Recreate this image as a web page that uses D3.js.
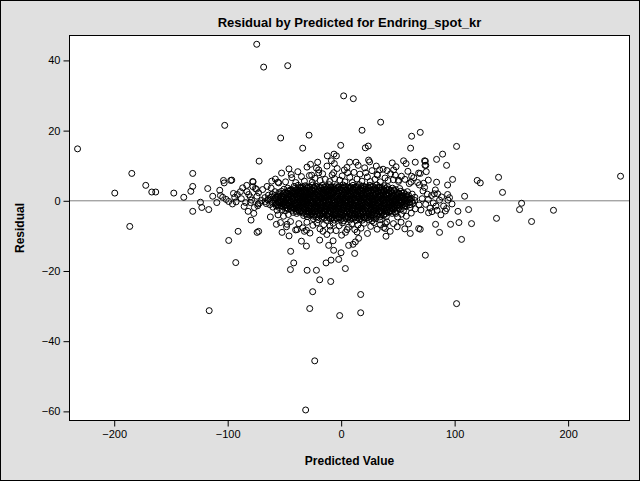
<!DOCTYPE html>
<html>
<head>
<meta charset="utf-8">
<script src="https://cdn.jsdelivr.net/npm/d3@7"></script>
<style>
  body { margin: 0; background: #ffffff; }
  text { font-family: "Liberation Sans", Arial, sans-serif; }
</style>
</head>
<body>
<svg id="drawing_region"></svg>
<script>
// tick values
const xticks = [-200, -100, 0, 100, 200];
const yticks = [-60, -40, -20, 0, 20, 40];

// points away from the main cloud: [predicted, residual]
const outer_points = [
  [-232.3,14.8],[-102.6,21.5],[-184.5,7.8],[-130.8,7.8],[-199.5,2.2],[-172.2,4.4],[-166.9,2.5],[-163.4,2.5],
  [-147.5,2.2],[-138.7,1.0],[-132.5,2.7],[-130.8,4.1],[-117.6,3.5],[-124.0,-0.4],[-122.8,-1.9],[-116.7,-2.5],
  [-130.8,-3.0],[-186.3,-7.3],[-116.3,-31.3],[-92.9,-17.6],[-99.1,-11.3],[-90.8,-8.7],[-113.2,1.3],[-107.0,3.0],
  [-103.7,5.8],[-103.1,5.1],[-97.3,5.8],[-109.6,-0.5],[-104.4,1.0],[-101.4,0.4],[-99.1,-0.2],[-93.8,1.0],
  [-94.9,2.1],[-92.6,-0.3],[-106.4,1.5],
  [246.2,7.0],[101.7,15.5],[89.4,13.3],[84.1,11.8],[92.9,10.1],[138.7,6.7],[119.9,5.8],[122.6,5.1],
  [98.2,6.1],[84.1,5.3],[93.8,4.5],[142.2,2.4],[108.8,1.3],[159.0,-0.7],[157.2,-2.5],[187.1,-2.7],
  [136.9,-5.0],[167.8,-5.9],[112.3,-2.5],[102.9,-3.0],[114.9,-6.5],[103.8,-6.2],[96.4,-6.7],[83.2,-6.7],
  [86.7,-9.0],[106.1,-11.0],[101.7,-29.3],[93.8,1.8],[85.0,2.0],[82.1,2.0],[86.7,0.2],[94.1,0.2],
  [97.7,-0.9],[90.3,-1.5],[83.6,-1.5],[92.9,-2.2],[84.5,-2.7],[80.0,-3.1],[91.8,-2.9],[69.7,19.5],
  [74.2,11.3],[74.6,10.1],[69.7,7.8],[69.7,-8.1],
  [-74.4,44.6],[-68.3,38.1],[-47.1,38.5],[2.2,29.9],[10.7,29.1],[34.8,22.4],[-53.3,17.9],[-28.3,18.7],
  [18.4,20.1],[62.1,18.4],[-33.9,15.0],[-0.4,15.8],[21.3,15.1],[23.9,15.6],[61.2,15.0],[-72.3,11.3],
  [-20.7,11.0],[-12.2,12.8],[-8.6,11.4],[-6.3,13.3],[-4.2,12.8],[7.5,11.0],[13.1,11.0],[24.2,11.6],
  [25.1,11.1],[55.0,11.4],[57.2,10.6],[65.3,11.0],[73.5,11.4],[73.9,10.1],[-96.4,5.9],[-83.2,4.4],
  [-77.6,5.4],[-74.7,3.3],[-61.2,5.6],[-55.6,5.3],[-26.0,7.3],[-19.8,8.8],[-19.8,8.0],[-6.6,8.0],
  [5.7,8.0],[2.8,8.8],[21.6,8.0],[31.6,7.5],[33.9,8.8],[40.4,8.6],[46.2,8.8],[47.7,7.3],
  [50.6,5.9],[62.1,7.0],[68.3,7.9],[75.0,8.3],[72.7,5.0],[76.8,5.9],
  [-77.0,-3.6],[-79.4,-5.5],[-74.1,-9.0],[-72.7,-8.7],[-62.4,-4.6],[-56.5,-2.7],[-57.1,-6.7],[-52.1,-9.0],
  [-47.7,-6.7],[-45.9,-10.0],[-44.5,-14.4],[-41.8,-17.7],[-35.0,-11.5],[-30.6,-12.9],[-38.8,-8.2],[-32.4,-8.7],
  [-30.6,-8.4],[-18.9,-11.2],[-16.0,-8.7],[-9.5,-8.4],[-11.0,-12.7],[-6.6,-14.1],[-0.1,-14.8],[-7.1,-11.4],
  [-13.3,-17.7],[-8.9,-16.9],[-2.2,-16.7],[0.4,-9.8],[5.2,-8.2],[14.0,-8.9],[15.4,-10.7],[6.6,-12.7],
  [10.5,-12.4],[12.5,-11.7],[11.9,-15.0],[3.7,-19.3],[28.6,-5.0],[38.9,-6.5],[38.9,-7.9],[39.5,-10.1],
  [48.1,-3.6],[60.9,-9.3],[68.3,-7.9],[74.2,-15.5],[-30.0,-19.8],[-21.8,-19.8],[-44.7,-19.6],[-18.9,-22.5],
  [-9.2,-23.0],[-25.1,-25.9],[-27.7,-30.7],[-1.3,-32.7],[17.2,-26.7],[17.2,-31.9],[-23.3,-45.6],[-31.3,-59.6],
  [-78.0,5.5],[-75.6,3.5],[-88.8,2.6],[-81.5,1.8],[-80.0,1.1],[-84.1,-0.5],[-80.0,-0.5],[-73.2,-0.9]
];

// points around the edge of the cloud
const fringe_points = [
  [-58,6.2],[-52.5,7.9],[-49,5.4],[-46,9.1],[-43.5,6.6],[-40,5.2],[-38.2,8.3],[-35,6.9],[-32.4,5.6],[-30.1,9.6],
  [-28,7.2],[-25.5,5.3],[-23,6.4],[-21.8,9.3],[-18.6,5.8],[-16.3,7.7],[-14,6.1],[-12.5,9.9],[-10.2,5.5],[-8,7.4],
  [-5.7,6.3],[-3.5,9.2],[-1.2,5.9],[0.9,7.1],[3.3,5.4],[5.1,9.5],[7.6,6.7],[9.8,5.2],[11.4,8.1],[14,6.2],
  [16.5,7.6],[18.3,5.6],[20.7,9.4],[23.1,6.8],[25.6,5.5],[27.2,8.6],[29.8,6.1],[32.1,7.3],[34.5,5.4],[36.9,9.0],
  [38.7,6.5],[41.3,5.8],[43.6,7.7],[46,6.0],[48.4,9.7],[50.5,5.5],[53.1,7.0],[56.2,6.1],[58.8,8.4],[61.5,5.3],
  [64,6.6],[67.4,5.2],[-55,5.1],[-44,7.5],[-27,10.4],[-6,10.6],[15,10.1],[31,9.9],[45,10.8],[60,4.9],
  [-53.5,-6.2],[-48.2,-7.4],[-44.6,-5.9],[-40.1,-8.3],[-37.3,-6.5],[-33.8,-7.7],[-30.2,-6.1],[-27.5,-9.2],
  [-24.9,-7.0],[-21.4,-6.3],[-18.7,-8.0],[-15.3,-6.8],[-12.6,-9.6],[-9.8,-7.2],[-7.1,-6.4],[-4.4,-8.5],
  [-1.7,-7.1],[1.2,-6.3],[3.8,-9.0],[6.5,-7.5],[9.3,-6.6],[12.0,-8.2],[14.8,-6.9],[17.5,-7.8],[20.3,-6.4],
  [23.2,-9.3],[26.0,-7.3],[28.9,-6.2],[31.7,-8.1],[34.6,-6.8],[37.5,-7.6],[40.3,-6.0],[43.2,-8.7],[46.1,-6.5],
  [49.4,-7.4],[52.8,-6.1],[56.1,-8.0],[59.4,-6.6],[-50.8,-4.4],[-46.5,-3.9],[-55.6,-4.0],[49.7,-4.6],[53.2,-3.8],
  [57.4,-4.4],[61.8,-3.5],[65.3,-2.3],[68.7,-1.2],[71.4,0.6],[-72.8,2.3],[-73.5,-1.4],[-69.2,3.2],[-65.3,4.1],
  [-61.7,3.6],
  [72.1,2.8],[74.5,-1.0],[76.8,0.4],[78.3,-2.1],[79.6,1.5],[81.2,-0.6],[83.0,3.1],[77.0,-3.4],[73.5,3.8],
  [75.9,1.9],[70.3,-2.6],[87.9,-4.0],[88.5,1.1],[95.5,0.9],[69.0,4.5],
  [-88.0,0.6],[-85.5,-1.6],[-83.0,2.6],[-79.0,0.2],[-76.5,-1.9],[-74.2,1.3],[-71.8,-0.6],[-86.8,3.7],
  [-91.5,1.8],[-95.8,-0.9],[-77.8,4.0],[-82.0,-3.0]
];

// the dense middle of the cloud
const core_points = [
  [-41.5,4.1],[-38.0,4.4],[-35.3,3.9],[-31.6,4.3],[-28.9,4.0],[-25.2,4.5],[-22.8,4.2],[-19.3,3.9],[-16.7,4.4],[-13.0,4.1],
  [-10.4,4.6],[-7.5,3.9],[-4.3,4.3],[-1.6,4.0],[1.7,4.5],[4.3,4.1],[7.2,3.8],[10.4,4.4],[13.3,4.0],[15.9,4.6],
  [19.4,4.2],[22.2,3.9],[25.3,4.4],[28.1,4.1],[31.4,4.5],[34.3,3.9],[37.8,4.3],[40.9,4.0],
  [-50.4,3.3],[-47.1,3.6],[-44.1,3.2],[-41.2,3.5],[-38.4,3.1],[-35.4,3.6],[-32.7,3.3],[-29.7,3.7],[-26.6,3.2],[-24.1,3.5],
  [-21.0,3.3],[-18.3,3.6],[-15.4,3.1],[-12.4,3.4],[-9.7,3.7],[-6.6,3.2],[-3.9,3.5],[-0.9,3.3],[1.8,3.6],[4.9,3.1],
  [7.5,3.5],[10.4,3.3],[13.6,3.7],[16.1,3.2],[19.3,3.5],[22.0,3.3],[24.7,3.6],[27.9,3.1],[30.4,3.4],[33.7,3.7],
  [36.1,3.2],[39.4,3.5],[41.9,3.3],[45.2,3.6],[48.0,3.2],[51.6,3.5],
  [-58.3,2.6],[-55.0,2.3],[-52.6,2.7],[-49.4,2.4],[-46.9,2.8],[-43.7,2.3],[-41.4,2.6],[-38.1,2.4],[-35.7,2.8],[-32.6,2.5],
  [-30.1,2.2],[-26.9,2.6],[-24.6,2.9],[-21.3,2.4],[-18.9,2.7],[-15.7,2.3],[-13.2,2.6],[-10.1,2.8],[-7.6,2.4],[-4.4,2.7],
  [-2.0,2.3],[1.3,2.6],[3.7,2.9],[7.0,2.4],[9.4,2.7],[12.7,2.3],[15.1,2.6],[18.4,2.8],[20.8,2.4],[24.0,2.7],
  [26.5,2.3],[29.7,2.6],[32.2,2.9],[35.4,2.4],[37.9,2.7],[41.1,2.3],[43.6,2.6],[46.8,2.8],[49.3,2.4],[52.5,2.7],
  [55.2,2.3],[58.4,2.6],
  [-64.1,1.6],[-60.8,1.9],[-58.4,1.5],[-55.1,1.8],[-52.7,1.4],[-49.6,1.7],[-47.1,2.0],[-43.9,1.5],[-41.5,1.8],[-38.4,1.6],
  [-36.0,1.9],[-32.8,1.4],[-30.4,1.7],[-27.2,2.0],[-24.9,1.5],[-21.7,1.8],[-19.3,1.6],[-16.1,1.9],[-13.7,1.4],[-10.5,1.7],
  [-8.1,2.0],[-5.0,1.5],[-2.6,1.8],[0.6,1.6],[3.0,1.9],[6.2,1.4],[8.6,1.7],[11.8,2.0],[14.2,1.5],[17.4,1.8],
  [19.8,1.6],[23.0,1.9],[25.4,1.4],[28.6,1.7],[31.0,2.0],[34.2,1.5],[36.6,1.8],[39.8,1.6],[42.2,1.9],[45.4,1.4],
  [47.8,1.7],[51.0,2.0],[53.5,1.5],[56.8,1.8],[59.3,1.6],[62.6,1.9],
  [-67.2,0.9],[-64.1,0.6],[-61.7,1.0],[-58.4,0.7],[-56.0,1.1],[-52.8,0.6],[-50.3,0.9],[-47.1,0.7],[-44.7,1.1],[-41.5,0.6],
  [-39.1,0.9],[-35.9,0.7],[-33.5,1.0],[-30.3,0.5],[-27.9,0.8],[-24.7,1.1],[-22.3,0.6],[-19.1,0.9],[-16.7,0.7],[-13.5,1.0],
  [-11.1,0.5],[-7.9,0.8],[-5.5,1.1],[-2.3,0.6],[0.1,0.9],[3.3,0.7],[5.7,1.0],[8.9,0.5],[11.3,0.8],[14.5,1.1],
  [16.9,0.6],[20.1,0.9],[22.5,0.7],[25.7,1.0],[28.1,0.5],[31.3,0.8],[33.7,1.1],[36.9,0.6],[39.3,0.9],[42.5,0.7],
  [44.9,1.0],[48.1,0.5],[50.5,0.8],[53.7,1.1],[56.1,0.6],[59.4,0.9],[61.9,0.7],[65.0,1.0],
  [-70.1,0.1],[-66.8,-0.2],[-64.4,0.2],[-61.2,-0.1],[-58.7,0.3],[-55.5,-0.2],[-53.1,0.1],[-49.8,-0.1],[-47.4,0.2],[-44.2,-0.3],
  [-41.8,0.0],[-38.6,0.3],[-36.2,-0.2],[-33.0,0.1],[-30.6,-0.1],[-27.4,0.2],[-25.0,-0.3],[-21.8,0.0],[-19.4,0.3],[-16.2,-0.2],
  [-13.8,0.1],[-10.6,-0.1],[-8.2,0.2],[-5.0,-0.3],[-2.6,0.0],[0.6,0.3],[3.0,-0.2],[6.2,0.1],[8.6,-0.1],[11.8,0.2],
  [14.2,-0.3],[17.4,0.0],[19.8,0.3],[23.0,-0.2],[25.4,0.1],[28.6,-0.1],[31.0,0.2],[34.2,-0.3],[36.6,0.0],[39.8,0.3],
  [42.2,-0.2],[45.4,0.1],[47.8,-0.1],[51.0,0.2],[53.4,-0.3],[56.6,0.0],[59.1,0.3],[62.4,-0.2],[64.9,0.1],
  [-66.0,-0.8],[-62.9,-1.1],[-60.5,-0.7],[-57.2,-1.0],[-54.8,-0.6],[-51.6,-0.9],[-49.2,-1.2],[-46.0,-0.7],[-43.6,-1.0],[-40.4,-0.8],
  [-38.0,-1.1],[-34.8,-0.6],[-32.4,-0.9],[-29.2,-1.2],[-26.8,-0.7],[-23.6,-1.0],[-21.2,-0.8],[-18.0,-1.1],[-15.6,-0.6],[-12.4,-0.9],
  [-10.0,-1.2],[-6.8,-0.7],[-4.4,-1.0],[-1.2,-0.8],[1.2,-1.1],[4.4,-0.6],[6.8,-0.9],[10.0,-1.2],[12.4,-0.7],[15.6,-1.0],
  [18.0,-0.8],[21.2,-1.1],[23.6,-0.6],[26.8,-0.9],[29.2,-1.2],[32.4,-0.7],[34.8,-1.0],[38.0,-0.8],[40.4,-1.1],[43.6,-0.6],
  [46.0,-0.9],[49.2,-1.2],[51.6,-0.7],[54.8,-1.0],[57.3,-0.8],[60.6,-1.1],[63.1,-0.7],
  [-60.2,-1.8],[-57.1,-1.5],[-54.7,-1.9],[-51.5,-1.6],[-49.1,-2.0],[-45.9,-1.5],[-43.5,-1.8],[-40.3,-1.6],[-37.9,-1.9],[-34.7,-1.4],
  [-32.3,-1.7],[-29.1,-2.0],[-26.7,-1.5],[-23.5,-1.8],[-21.1,-1.6],[-17.9,-1.9],[-15.5,-1.4],[-12.3,-1.7],[-9.9,-2.0],[-6.7,-1.5],
  [-4.3,-1.8],[-1.1,-1.6],[1.3,-1.9],[4.5,-1.4],[6.9,-1.7],[10.1,-2.0],[12.5,-1.5],[15.7,-1.8],[18.1,-1.6],[21.3,-1.9],
  [23.7,-1.4],[26.9,-1.7],[29.3,-2.0],[32.5,-1.5],[34.9,-1.8],[38.1,-1.6],[40.5,-1.9],[43.7,-1.4],[46.1,-1.7],[49.3,-2.0],
  [51.7,-1.5],[55.0,-1.8],[57.5,-1.6],[60.8,-1.9],
  [-52.0,-2.5],[-48.9,-2.8],[-46.5,-2.4],[-43.3,-2.7],[-40.9,-2.3],[-37.7,-2.6],[-35.3,-2.9],[-32.1,-2.4],[-29.7,-2.7],[-26.5,-2.5],
  [-24.1,-2.8],[-20.9,-2.3],[-18.5,-2.6],[-15.3,-2.9],[-12.9,-2.4],[-9.7,-2.7],[-7.3,-2.5],[-4.1,-2.8],[-1.7,-2.3],[1.5,-2.6],
  [3.9,-2.9],[7.1,-2.4],[9.5,-2.7],[12.7,-2.5],[15.1,-2.8],[18.3,-2.3],[20.7,-2.6],[23.9,-2.9],[26.3,-2.4],[29.5,-2.7],
  [31.9,-2.5],[35.1,-2.8],[37.5,-2.3],[40.7,-2.6],[43.1,-2.9],[46.3,-2.4],[48.8,-2.7],[52.2,-2.5],[54.9,-2.8],
  [-42.3,-3.3],[-39.2,-3.6],[-36.8,-3.2],[-33.6,-3.5],[-31.2,-3.7],[-28.0,-3.3],[-25.6,-3.6],[-22.4,-3.2],[-20.0,-3.5],[-16.8,-3.7],
  [-14.4,-3.3],[-11.2,-3.6],[-8.8,-3.2],[-5.6,-3.5],[-3.2,-3.7],[0.0,-3.3],[2.4,-3.6],[5.6,-3.2],[8.0,-3.5],[11.2,-3.7],
  [13.6,-3.3],[16.8,-3.6],[19.2,-3.2],[22.4,-3.5],[24.8,-3.7],[28.0,-3.3],[30.4,-3.6],[33.6,-3.2],[36.0,-3.5],[39.2,-3.7],
  [41.7,-3.3],[45.0,-3.6],[47.6,-3.2],
  [-33.1,-4.2],[-30.0,-4.5],[-27.6,-4.1],[-24.4,-4.4],[-22.0,-4.6],[-18.8,-4.2],[-16.4,-4.5],[-13.2,-4.1],[-10.8,-4.4],[-7.6,-4.6],
  [-5.2,-4.2],[-2.0,-4.5],[0.4,-4.1],[3.6,-4.4],[6.0,-4.6],[9.2,-4.2],[11.6,-4.5],[14.8,-4.1],[17.2,-4.4],[20.4,-4.6],
  [22.8,-4.2],[26.0,-4.5],[28.4,-4.1],[31.6,-4.4],[34.0,-4.6],[37.3,-4.2],[39.8,-4.5],
  [-24.5,-5.1],[-20.3,-5.4],[-16.8,-5.0],[-12.9,-5.6],[-9.4,-5.2],[-6.1,-5.5],[-3.2,-5.0],[-0.5,-5.4],[2.3,-5.7],[5.0,-5.1],
  [7.8,-5.5],[10.5,-5.0],[13.3,-5.6],[16.0,-5.2],[18.8,-5.5],[21.5,-5.0],[24.4,-5.4],[27.2,-5.7],[30.5,-5.1],[34.2,-5.4]
];

// more observations packed between the ones above, centre of the cloud
const core_points_2 = [
  [-36.6,3.8],[-33.9,4.0],[-30.2,3.7],[-27.5,3.9],[-24.0,3.8],[-21.4,4.0],[-18.0,3.7],[-15.1,3.9],[-11.8,3.8],[-9.0,4.0],
  [-5.9,3.7],[-2.9,3.9],[0.1,3.8],[2.9,4.0],[5.8,3.7],[8.8,3.9],[11.9,3.8],[14.6,4.0],[17.6,3.7],[20.8,3.9],
  [23.7,3.8],[26.6,4.0],[29.7,3.7],[32.8,3.9],[35.9,3.8],
  [-44.9,3.0],[-42.6,2.9],[-39.8,3.1],[-37.0,2.9],[-34.1,3.0],[-31.2,3.1],[-28.3,2.9],[-25.5,3.0],[-22.7,3.1],[-19.8,2.9],
  [-16.9,3.0],[-14.0,3.1],[-11.1,2.9],[-8.3,3.0],[-5.4,3.1],[-2.5,2.9],[0.3,3.0],[3.3,3.1],[6.1,2.9],[9.0,3.0],
  [11.9,3.1],[14.8,2.9],[17.7,3.0],[20.6,3.1],[23.4,2.9],[26.3,3.0],[29.1,3.1],[32.0,2.9],[34.9,3.0],[37.7,3.1],
  [40.6,2.9],[43.5,3.0],[46.4,3.1],
  [-51.0,2.1],[-48.0,2.2],[-45.3,2.0],[-42.5,2.1],[-39.7,2.2],[-36.9,2.0],[-34.2,2.1],[-31.3,2.2],[-28.6,2.0],[-25.7,2.1],
  [-23.0,2.2],[-20.1,2.0],[-17.3,2.1],[-14.5,2.2],[-11.7,2.0],[-8.8,2.1],[-6.1,2.2],[-3.2,2.0],[-0.4,2.1],[2.5,2.2],
  [5.3,2.0],[8.1,2.1],[11.0,2.2],[13.8,2.0],[16.7,2.1],[19.5,2.2],[22.4,2.0],[25.2,2.1],[28.0,2.2],[30.9,2.0],
  [33.7,2.1],[36.6,2.2],[39.4,2.0],[42.3,2.1],[45.1,2.2],[48.0,2.0],[50.8,2.1],[53.7,2.2],
  [-55.6,1.2],[-52.9,1.3],[-50.1,1.2],[-47.4,1.3],[-44.6,1.2],[-41.9,1.3],[-39.1,1.2],[-36.4,1.3],[-33.6,1.2],[-30.9,1.3],
  [-28.1,1.2],[-25.4,1.3],[-22.6,1.2],[-19.9,1.3],[-17.1,1.2],[-14.4,1.3],[-11.6,1.2],[-8.9,1.3],[-6.1,1.2],[-3.4,1.3],
  [-0.6,1.2],[2.1,1.3],[4.9,1.2],[7.6,1.3],[10.4,1.2],[13.1,1.3],[15.9,1.2],[18.6,1.3],[21.4,1.2],[24.1,1.3],
  [26.9,1.2],[29.6,1.3],[32.4,1.2],[35.1,1.3],[37.9,1.2],[40.6,1.3],[43.4,1.2],[46.1,1.3],[48.9,1.2],[51.6,1.3],
  [54.4,1.2],[57.3,1.3],
  [-57.0,0.4],[-54.1,0.3],[-51.4,0.5],[-48.6,0.4],[-45.8,0.3],[-43.0,0.5],[-40.2,0.4],[-37.4,0.3],[-34.6,0.5],[-31.8,0.4],
  [-29.0,0.3],[-26.2,0.5],[-23.4,0.4],[-20.6,0.3],[-17.8,0.5],[-15.0,0.4],[-12.2,0.3],[-9.4,0.5],[-6.6,0.4],[-3.8,0.3],
  [-1.0,0.5],[1.8,0.4],[4.6,0.3],[7.4,0.5],[10.2,0.4],[13.0,0.3],[15.8,0.5],[18.6,0.4],[21.4,0.3],[24.2,0.5],
  [27.0,0.4],[29.8,0.3],[32.6,0.5],[35.4,0.4],[38.2,0.3],[41.0,0.5],[43.8,0.4],[46.6,0.3],[49.4,0.5],[52.2,0.4],
  [55.0,0.3],[57.9,0.5],[60.7,0.4],
  [-57.9,-0.5],[-55.2,-0.4],[-52.4,-0.5],[-49.6,-0.4],[-46.8,-0.5],[-44.0,-0.4],[-41.2,-0.5],[-38.4,-0.4],[-35.6,-0.5],[-32.8,-0.4],
  [-30.0,-0.5],[-27.2,-0.4],[-24.4,-0.5],[-21.6,-0.4],[-18.8,-0.5],[-16.0,-0.4],[-13.2,-0.5],[-10.4,-0.4],[-7.6,-0.5],[-4.8,-0.4],
  [-2.0,-0.5],[0.8,-0.4],[3.6,-0.5],[6.4,-0.4],[9.2,-0.5],[12.0,-0.4],[14.8,-0.5],[17.6,-0.4],[20.4,-0.5],[23.2,-0.4],
  [26.0,-0.5],[28.8,-0.4],[31.6,-0.5],[34.4,-0.4],[37.2,-0.5],[40.0,-0.4],[42.8,-0.5],[45.6,-0.4],[48.4,-0.5],[51.2,-0.4],
  [54.0,-0.5],[56.9,-0.4],[59.8,-0.5],
  [-55.8,-1.3],[-53.0,-1.4],[-50.2,-1.2],[-47.4,-1.3],[-44.6,-1.4],[-41.8,-1.2],[-39.0,-1.3],[-36.2,-1.4],[-33.4,-1.2],[-30.6,-1.3],
  [-27.8,-1.4],[-25.0,-1.2],[-22.2,-1.3],[-19.4,-1.4],[-16.6,-1.2],[-13.8,-1.3],[-11.0,-1.4],[-8.2,-1.2],[-5.4,-1.3],[-2.6,-1.4],
  [0.2,-1.2],[3.0,-1.3],[5.8,-1.4],[8.6,-1.2],[11.4,-1.3],[14.2,-1.4],[17.0,-1.2],[19.8,-1.3],[22.6,-1.4],[25.4,-1.2],
  [28.2,-1.3],[31.0,-1.4],[33.8,-1.2],[36.6,-1.3],[39.4,-1.4],[42.2,-1.2],[45.0,-1.3],[47.8,-1.4],[50.6,-1.2],[53.5,-1.3],
  [56.4,-1.4],
  [-47.7,-2.1],[-44.9,-2.2],[-42.1,-2.1],[-39.3,-2.2],[-36.5,-2.1],[-33.7,-2.2],[-30.9,-2.1],[-28.1,-2.2],[-25.3,-2.1],[-22.5,-2.2],
  [-19.7,-2.1],[-16.9,-2.2],[-14.1,-2.1],[-11.3,-2.2],[-8.5,-2.1],[-5.7,-2.2],[-2.9,-2.1],[-0.1,-2.2],[2.7,-2.1],[5.5,-2.2],
  [8.3,-2.1],[11.1,-2.2],[13.9,-2.1],[16.7,-2.2],[19.5,-2.1],[22.3,-2.2],[25.1,-2.1],[27.9,-2.2],[30.7,-2.1],[33.5,-2.2],
  [36.3,-2.1],[39.1,-2.2],[41.9,-2.1],[44.7,-2.2],[47.6,-2.1],[50.6,-2.2],
  [-39.6,-3.0],[-36.8,-2.9],[-34.0,-3.1],[-31.2,-3.0],[-28.4,-2.9],[-25.6,-3.1],[-22.8,-3.0],[-20.0,-2.9],[-17.2,-3.1],[-14.4,-3.0],
  [-11.6,-2.9],[-8.8,-3.1],[-6.0,-3.0],[-3.2,-2.9],[-0.4,-3.1],[2.4,-3.0],[5.2,-2.9],[8.0,-3.1],[10.8,-3.0],[13.6,-2.9],
  [16.4,-3.1],[19.2,-3.0],[22.0,-2.9],[24.8,-3.1],[27.6,-3.0],[30.4,-2.9],[33.2,-3.1],[36.0,-3.0],[38.8,-2.9],[41.6,-3.1],
  [44.5,-3.0],
  [-29.8,-3.9],[-26.9,-3.8],[-24.1,-4.0],[-21.3,-3.9],[-18.5,-3.8],[-15.7,-4.0],[-12.9,-3.9],[-10.1,-3.8],[-7.3,-4.0],[-4.5,-3.9],
  [-1.7,-3.8],[1.1,-4.0],[3.9,-3.9],[6.7,-3.8],[9.5,-4.0],[12.3,-3.9],[15.1,-3.8],[17.9,-4.0],[20.7,-3.9],[23.5,-3.8],
  [26.3,-4.0],[29.1,-3.9],[31.9,-3.8],[34.8,-4.0],[37.8,-3.9],
  [-14.8,-4.9],[-11.0,-4.8],[-7.9,-5.0],[-4.6,-4.9],[-1.8,-4.8],[1.0,-5.0],[3.7,-4.9],[6.4,-4.8],[9.1,-5.0],[11.9,-4.9],
  [14.6,-4.8],[17.4,-5.0],[20.2,-4.9],[23.0,-4.8],[25.9,-5.0]
];

const data = outer_points.concat(fringe_points, core_points, core_points_2)
  .map(d => ({ x: d[0], y: d[1] }));

class ResidualPlot {

  constructor( config, data ) {
    this.config = config;
    this.data = data;
    this.init();
  }

  init() {
    let self = this;

    self.svg = d3.select( self.config.parent )
      .attr('width', self.config.width)
      .attr('height', self.config.height);

    // gray page with black border
    self.svg.append('rect')
      .attr('x', 0.5).attr('y', 0.5)
      .attr('width', 639).attr('height', 480)
      .attr('fill', '#e0e0e0')
      .attr('stroke', '#000');

    self.inner_width = self.config.width - self.config.margin.left - self.config.margin.right;
    self.inner_height = self.config.height - self.config.margin.top - self.config.margin.bottom;

    self.chart = self.svg.append('g')
      .attr('transform', `translate(${self.config.margin.left}, ${self.config.margin.top})`);

    self.xscale = d3.scaleLinear()
      .domain([-239.4, 254.1])
      .range([0, self.inner_width]);

    self.yscale = d3.scaleLinear()
      .domain([-62.6, 47.1])
      .range([self.inner_height, 0]);

    self.xaxis = d3.axisBottom( self.xscale )
      .tickValues(xticks)
      .tickSize(6)
      .tickPadding(4)
      .tickSizeOuter(0);

    self.yaxis = d3.axisLeft( self.yscale )
      .tickValues(yticks)
      .tickSize(6)
      .tickPadding(3)
      .tickSizeOuter(0);
  }

  render() {
    let self = this;

    self.chart.append('rect')
      .attr('width', self.inner_width)
      .attr('height', self.inner_height)
      .attr('fill', '#fff');

    // reference line at zero
    self.chart.append('line')
      .attr('x1', 0).attr('x2', self.inner_width)
      .attr('y1', self.yscale(0)).attr('y2', self.yscale(0))
      .attr('stroke', '#808080');

    self.chart.selectAll('circle')
      .data(self.data)
      .enter()
      .append('circle')
      .attr('cx', d => self.xscale(d.x))
      .attr('cy', d => self.yscale(d.y))
      .attr('r', 3)
      .attr('fill', 'none')
      .attr('stroke', '#000')
      .attr('stroke-width', 1);

    self.chart.append('rect')
      .attr('width', self.inner_width)
      .attr('height', self.inner_height)
      .attr('fill', 'none')
      .attr('stroke', '#000');

    const xg = self.chart.append('g')
      .attr('transform', `translate(0, ${self.inner_height})`)
      .call( self.xaxis );
    const yg = self.chart.append('g')
      .call( self.yaxis );

    [xg, yg].forEach(g => {
      g.select('.domain').remove();
      g.selectAll('line').attr('stroke', '#000');
      g.selectAll('text')
        .attr('fill', '#000')
        .style('font-family', '"Liberation Sans", Arial, sans-serif')
        .style('font-size', '11px');
    });

    self.svg.append('text')
      .attr('x', self.config.margin.left + self.inner_width / 2)
      .attr('y', 27)
      .attr('text-anchor', 'middle')
      .style('font-weight', 'bold')
      .style('font-size', '13px')
      .text('Residual by Predicted for Endring_spot_kr');

    self.svg.append('text')
      .attr('x', self.config.margin.left + self.inner_width / 2)
      .attr('y', 465)
      .attr('text-anchor', 'middle')
      .style('font-weight', 'bold')
      .style('font-size', '12px')
      .text('Predicted Value');

    self.svg.append('text')
      .attr('transform', `translate(24, ${self.config.margin.top + self.inner_height / 2}) rotate(-90)`)
      .attr('text-anchor', 'middle')
      .style('font-weight', 'bold')
      .style('font-size', '12px')
      .text('Residual');
  }
}

const config = {
  parent: '#drawing_region',
  width: 641,
  height: 485,
  margin: {top: 35.5, right: 11.5, bottom: 64.5, left: 69.5}
};

const plot = new ResidualPlot( config, data );
plot.render();
</script>
</body>
</html>
